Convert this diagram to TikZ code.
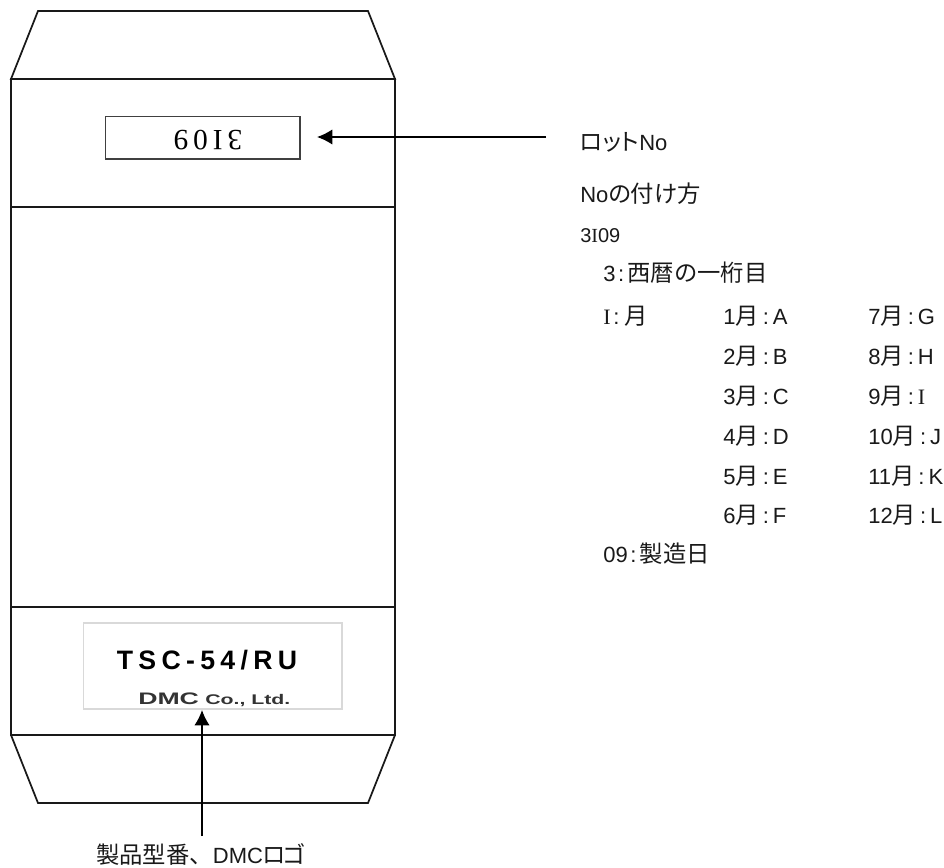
\documentclass[tikz,border=0pt]{standalone}
\usepackage{fontspec}
\setmainfont{Liberation Sans}
\newfontfamily\jp{Noto Sans CJK JP}
\newfontfamily\jpp[RawFeature={+palt}]{Noto Sans CJK JP}
\newfontfamily\lotf[LetterSpace=17]{Liberation Serif}
\newfontfamily\serf{Liberation Serif}
\newfontfamily\modelf[LetterSpace=20]{Liberation Sans}
\usetikzlibrary{arrows.meta}
\newcommand\jt[1]{{\jp\fontsize{17.5}{20}\selectfont #1}}
\newcommand\jq[1]{{\jpp\fontsize{17.5}{20}\selectfont #1}}
\newcommand\mth[2]{#1\jt{月}\kern3pt:\kern3pt #2}
\tikzset{
  body/.style={draw=black!90,line width=1.3pt,line join=miter},
  lbl/.style={anchor=base west,inner sep=0pt,font=\fontsize{16.5}{20}\selectfont,text=black!90},
  pointer/.style={draw=black,line width=1.1pt,-{Latex[length=11.5pt,width=11.5pt]}}
}
\begin{document}
\begin{tikzpicture}[x=0.75pt,y=-0.75pt]
\useasboundingbox (0,0) rectangle (944,867);
\draw[body] (11,79) -- (38,11) -- (368,11) -- (395,79) -- cycle;
\draw[body] (11,79) rectangle (395,735);
\draw[body] (11,207) -- (395,207);
\draw[body] (11,607) -- (395,607);
\draw[body] (11,735) -- (38,803) -- (368,803) -- (395,735);
% lot box
\node[draw=black!75,line width=1pt,minimum width=146pt,minimum height=32pt,inner sep=0pt] (lotbox) at (202.5,137.5) {};
\node[rotate=180,inner sep=0pt,font=\lotf\fontsize{22}{24}\selectfont] (lotno) at (208,140) {3I09};
% logo box
\node[draw=black!15,line width=1pt,minimum width=194pt,minimum height=64.5pt,inner sep=0pt] (logobox) at (212.5,666) {};
\node[inner sep=0pt,font=\modelf\bfseries\fontsize{20}{22}\selectfont,anchor=base] (model) at (207,669) {TSC-54/RU};
\node[inner sep=0pt,font=\bfseries\fontsize{12.5}{14}\selectfont,anchor=base west,text=black!80] (logoa) at (138,704) {\scalebox{1.6}[1]{DMC}};
\node[inner sep=0pt,font=\bfseries\fontsize{10.5}{14}\selectfont,anchor=base west,text=black!80] (logob) at (205,704) {\scalebox{1.52}[1]{Co., Ltd.}};
% labels
\node[lbl] (lot) at (580,150) {\jq{ロット}No};
\node[lbl] (how) at (580,202) {No\jq{の付け方}};
\node[lbl,font=\fontsize{15}{17}\selectfont] (code) at (580,242) {3{\serf I}09};
\node[lbl] (y) at (603,281) {3\kern2pt:\kern2.5pt\jt{西暦の一桁目}};
\node[lbl] (m) at (603,324) {{\serf I}\kern2pt:\kern3.5pt\jt{月}};
\foreach \i/\yy/\dl/\ll/\dr/\lr in {1/324/1/A/7/G,2/364/2/B/8/H,3/404/3/C/9/{\serf I},4/444/4/D/10/J,5/484/5/E/11/K,6/523/6/F/12/L}{
  \node[lbl] (l\i) at (723,\yy) {\mth{\dl}{\ll}};
  \node[lbl] (r\i) at (868,\yy) {\mth{\dr}{\lr}};
}
\node[lbl] (d) at (603,562) {09\kern2pt:\kern2.5pt\jt{製造日}};
\node[lbl] (prod) at (96,863) {\jt{製品型番、}DMC\jq{ロ}\kern-2pt\jq{ゴ}};
\coordinate (lotfrom) at (546,137);
\coordinate (lotto) at (317,137);
\coordinate (prodfrom) at (202,836);
\coordinate (prodto) at (202,710);
\draw[pointer] (lotfrom) -- (lotto);
\draw[pointer] (prodfrom) -- (prodto);
\end{tikzpicture}
\end{document}
